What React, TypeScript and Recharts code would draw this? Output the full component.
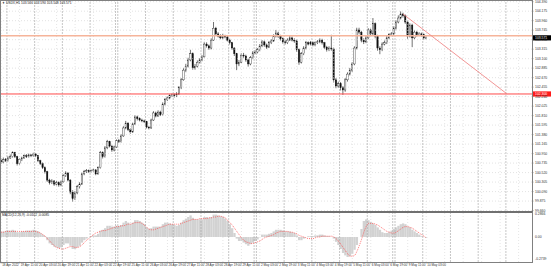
import { Bar, ComposedChart, Line, ReferenceLine, XAxis, YAxis } from "recharts";

// H2 candles (open = previous close)
const CLOSE = [
  100.76, 100.81, 100.79, 100.85, 100.88, 100.97, 100.88, 100.72, 100.81, 100.85,
  100.9, 100.88, 100.92, 100.9, 100.94, 100.9, 100.79, 100.72, 100.63, 100.54,
  100.35, 100.29, 100.33, 100.26, 100.29, 100.24, 100.31, 100.45, 100.51, 100.35,
  100.08, 99.93, 100.06, 100.2, 100.26, 100.49, 100.54, 100.56, 100.54, 100.56,
  100.58, 100.49, 100.63, 100.97, 100.88, 101.08, 101.22, 101.12, 101.03, 101.1,
  101.24, 101.22, 101.35, 101.53, 101.64, 101.49, 101.44, 101.62, 101.78, 101.74,
  101.71, 101.69, 101.67, 101.55, 101.53, 101.71, 101.87, 101.8, 101.89, 101.83,
  102.07, 102.17, 102.21, 102.26, 102.28, 102.26, 102.3, 102.44, 102.62, 102.84,
  102.93, 103.07, 103.21, 102.89, 102.93, 103.02, 103.07, 103.14, 103.43, 103.39,
  103.34, 103.52, 103.79, 103.66, 103.61, 103.57, 103.61, 103.59, 103.52, 103.46,
  103.34, 103.21, 102.98, 103.02, 103.18, 103.16, 103.07, 102.98, 103.12, 103.23,
  103.25, 103.3, 103.39, 103.48, 103.41, 103.36, 103.46, 103.5, 103.61, 103.68,
  103.61, 103.55, 103.48, 103.46, 103.52, 103.57, 103.52, 103.5, 103.3, 103.02,
  103.21, 103.34, 103.46, 103.43, 103.46, 103.41, 103.46, 103.48, 103.52, 103.46,
  103.36, 103.3, 103.34, 103.32, 102.62, 102.48, 102.53, 102.44, 102.39, 102.62,
  102.75, 102.84, 102.98, 103.34, 103.75, 103.7, 103.52, 103.48, 103.57, 103.75,
  103.66, 103.89, 103.61, 103.34, 103.3, 103.43, 103.46, 103.57, 103.64, 103.66,
  103.79, 103.93, 104.02, 104.11, 104.07, 103.93, 103.61, 103.86, 103.57, 103.7,
  103.64, 103.66, 103.64, 103.57, 103.57,
];
const HIGH = [
  100.84, 100.86, 100.85, 100.89, 100.93, 101.0, 100.99, 100.9, 100.84, 100.88,
  100.93, 100.94, 100.95, 100.94, 100.97, 100.96, 100.92, 100.81, 100.75, 100.66,
  100.56, 100.38, 100.37, 100.35, 100.33, 100.32, 100.34, 100.48, 100.55, 100.53,
  100.37, 100.12, 100.1, 100.24, 100.3, 100.52, 100.58, 100.6, 100.59, 100.59,
  100.61, 100.6, 100.66, 101.01, 101.0, 101.12, 101.26, 101.24, 101.14, 101.13,
  101.27, 101.28, 101.39, 101.57, 101.69, 101.66, 101.52, 101.65, 101.82, 101.81,
  101.77, 101.74, 101.72, 101.69, 101.58, 101.74, 101.91, 101.9, 101.93, 101.92,
  102.11, 102.21, 102.25, 102.29, 102.31, 102.31, 102.34, 102.48, 102.66, 102.89,
  102.98, 103.12, 103.3, 103.24, 102.98, 103.06, 103.11, 103.18, 103.48, 103.47,
  103.42, 103.56, 103.93, 103.82, 103.7, 103.65, 103.66, 103.64, 103.62, 103.55,
  103.48, 103.36, 103.23, 103.07, 103.22, 103.23, 103.19, 103.1, 103.16, 103.27,
  103.29, 103.34, 103.43, 103.52, 103.51, 103.44, 103.5, 103.54, 103.65, 103.75,
  103.71, 103.64, 103.58, 103.52, 103.56, 103.61, 103.6, 103.56, 103.53, 103.33,
  103.25, 103.38, 103.5, 103.49, 103.5, 103.49, 103.49, 103.52, 103.56, 103.55,
  103.48, 103.39, 103.38, 103.64, 103.35, 102.66, 102.58, 102.57, 102.48, 102.66,
  102.79, 102.89, 103.02, 103.38, 103.8, 103.8, 103.73, 103.56, 103.62, 103.79,
  103.78, 104.02, 103.92, 103.64, 103.38, 103.47, 103.51, 103.61, 103.68, 103.7,
  103.83, 103.97, 104.08, 104.17, 104.14, 104.1, 103.96, 103.9, 103.89, 103.74,
  103.73, 103.7, 103.69, 103.67, 103.61,
];
const LOW = [
  100.72, 100.73, 100.76, 100.77, 100.83, 100.86, 100.85, 100.68, 100.7, 100.78,
  100.83, 100.85, 100.86, 100.87, 100.88, 100.87, 100.76, 100.69, 100.6, 100.5,
  100.31, 100.25, 100.26, 100.22, 100.23, 100.2, 100.21, 100.29, 100.42, 100.32,
  100.03, 99.86, 99.9, 100.03, 100.16, 100.24, 100.46, 100.51, 100.51, 100.52,
  100.53, 100.46, 100.47, 100.61, 100.84, 100.86, 101.05, 101.09, 100.99, 101.0,
  101.08, 101.19, 101.2, 101.33, 101.5, 101.46, 101.4, 101.42, 101.6, 101.7,
  101.68, 101.66, 101.64, 101.52, 101.5, 101.51, 101.69, 101.77, 101.78, 101.8,
  101.81, 102.04, 102.14, 102.18, 102.23, 102.22, 102.23, 102.28, 102.41, 102.6,
  102.8, 102.9, 103.04, 102.85, 102.85, 102.9, 102.99, 103.04, 103.12, 103.35,
  103.3, 103.31, 103.5, 103.62, 103.58, 103.54, 103.54, 103.56, 103.49, 103.42,
  103.3, 103.16, 102.84, 102.93, 103.0, 103.12, 103.03, 102.92, 102.95, 103.09,
  103.2, 103.22, 103.27, 103.36, 103.37, 103.32, 103.34, 103.43, 103.48, 103.58,
  103.57, 103.51, 103.44, 103.42, 103.43, 103.5, 103.49, 103.46, 103.25, 102.96,
  102.99, 103.18, 103.31, 103.4, 103.4, 103.38, 103.38, 103.43, 103.45, 103.42,
  103.32, 103.26, 103.27, 103.28, 102.56, 102.43, 102.44, 102.38, 102.28, 102.35,
  102.58, 102.72, 102.8, 102.95, 103.31, 103.65, 103.47, 103.43, 103.45, 103.54,
  103.62, 103.63, 103.56, 103.28, 103.2, 103.27, 103.4, 103.43, 103.54, 103.61,
  103.63, 103.76, 103.9, 103.99, 104.03, 103.89, 103.55, 103.58, 103.36, 103.54,
  103.6, 103.61, 103.6, 103.53, 103.54,
];
const OPEN = [100.8, ...CLOSE.slice(0, -1)];

// MACD(12,26,9) histogram and signal
const HIST = [
  0.06, 0.07, 0.07, 0.08, 0.08, 0.09, 0.08, 0.06, 0.06, 0.07,
  0.07, 0.08, 0.08, 0.08, 0.09, 0.08, 0.07, 0.05, 0.03, 0.01,
  -0.04, -0.08, -0.1, -0.12, -0.13, -0.14, -0.13, -0.1, -0.08, -0.08,
  -0.11, -0.15, -0.15, -0.13, -0.11, -0.07, -0.04, -0.02, 0.0, 0.01,
  0.02, 0.02, 0.04, 0.08, 0.09, 0.11, 0.14, 0.14, 0.13, 0.13,
  0.14, 0.14, 0.15, 0.18, 0.2, 0.18, 0.16, 0.18, 0.21, 0.21,
  0.2, 0.18, 0.16, 0.12, 0.1, 0.11, 0.13, 0.13, 0.13, 0.13,
  0.16, 0.18, 0.18, 0.17, 0.16, 0.15, 0.14, 0.15, 0.18, 0.21,
  0.23, 0.25, 0.27, 0.24, 0.22, 0.22, 0.22, 0.22, 0.25, 0.25,
  0.24, 0.25, 0.28, 0.28, 0.27, 0.26, 0.25, 0.23, 0.2, 0.16,
  0.11, 0.05, -0.02, -0.05, -0.05, -0.07, -0.09, -0.11, -0.09, -0.07,
  -0.05, -0.03, 0.0, 0.03, 0.03, 0.03, 0.04, 0.05, 0.07, 0.09,
  0.09, 0.09, 0.08, 0.07, 0.07, 0.07, 0.06, 0.05, 0.02, -0.04,
  -0.04, -0.02, 0.0, 0.01, 0.01, 0.01, 0.02, 0.02, 0.03, 0.03,
  0.02, 0.01, 0.01, 0.0, -0.02, -0.06, -0.1, -0.15, -0.2, -0.23,
  -0.25, -0.24, -0.21, -0.16, -0.1, 0.0, 0.1, 0.2, 0.22, 0.21,
  0.19, 0.17, 0.15, 0.12, 0.09, 0.06, 0.05, 0.05, 0.06, 0.08,
  0.1, 0.12, 0.14, 0.16, 0.17, 0.16, 0.13, 0.12, 0.09, 0.07,
  0.05, 0.03, 0.01, 0.0, -0.01,
];
const SIGNAL = [
  0.06, 0.06, 0.07, 0.07, 0.07, 0.07, 0.07, 0.07, 0.07, 0.07,
  0.07, 0.07, 0.07, 0.07, 0.07, 0.07, 0.06, 0.05, 0.03, 0.01,
  -0.02, -0.05, -0.08, -0.11, -0.13, -0.14, -0.15, -0.15, -0.14, -0.13,
  -0.12, -0.12, -0.13, -0.13, -0.12, -0.1, -0.07, -0.04, -0.02, 0.01,
  0.03, 0.05, 0.06, 0.07, 0.08, 0.08, 0.09, 0.1, 0.11, 0.12,
  0.13, 0.13, 0.14, 0.14, 0.15, 0.16, 0.16, 0.17, 0.18, 0.18,
  0.18, 0.17, 0.15, 0.12, 0.1, 0.09, 0.09, 0.1, 0.11, 0.12,
  0.13, 0.14, 0.15, 0.16, 0.16, 0.16, 0.16, 0.16, 0.17, 0.18,
  0.19, 0.2, 0.21, 0.22, 0.22, 0.22, 0.23, 0.23, 0.23, 0.23,
  0.24, 0.24, 0.25, 0.25, 0.26, 0.26, 0.25, 0.24, 0.21, 0.18,
  0.15, 0.11, 0.07, 0.03, -0.01, -0.04, -0.06, -0.07, -0.08, -0.08,
  -0.07, -0.06, -0.05, -0.03, -0.01, 0.0, 0.01, 0.02, 0.03, 0.05,
  0.06, 0.07, 0.07, 0.07, 0.07, 0.06, 0.06, 0.05, 0.04, 0.02,
  0.01, 0.0, -0.01, -0.02, -0.02, -0.02, -0.01, 0.0, 0.0, 0.01,
  0.01, 0.01, 0.01, 0.01, 0.0, -0.02, -0.05, -0.09, -0.13, -0.17,
  -0.21, -0.24, -0.24, -0.23, -0.18, -0.11, -0.03, 0.06, 0.13, 0.17,
  0.17, 0.17, 0.16, 0.15, 0.13, 0.11, 0.09, 0.07, 0.06, 0.05,
  0.05, 0.06, 0.08, 0.1, 0.12, 0.13, 0.13, 0.12, 0.11, 0.09,
  0.07, 0.05, 0.03, 0.01, -0.01,
];

const PRICE_TICKS = [
  104.39, 104.175, 103.96, 103.745, 103.53, 103.315, 103.1, 102.885, 102.67,
  102.455, 102.24, 102.025, 101.81, 101.595, 101.38, 101.165, 100.95, 100.735,
  100.52, 100.305, 100.09, 99.875, 99.66,
];
const MACD_TICKS = [0.2866, 0, -0.2739];
const TIME_TICKS = [
  0, 8, 16, 24, 32, 40, 48, 56, 64, 72, 80, 88, 96, 104, 112, 120, 128, 136,
  144, 152, 160, 168, 176, 184,
];
const TIME_LABELS = [
  "18 Apr 2022", "19 Apr 11:00", "20 Apr 03:00", "20 Apr 19:00", "21 Apr 11:00",
  "22 Apr 03:00", "22 Apr 19:00", "25 Apr 11:00", "26 Apr 03:00", "26 Apr 19:00",
  "27 Apr 11:00", "28 Apr 03:00", "28 Apr 19:00", "29 Apr 11:00", "2 May 03:00",
  "2 May 19:00", "3 May 11:00", "4 May 03:00", "4 May 19:00", "5 May 11:00",
  "6 May 03:00", "6 May 19:00", "9 May 11:00", "10 May 03:00",
];
const GRID_X = [...TIME_TICKS, 192, 200, 208, 216, 224];
const DAY_BREAKS = [
  2.5, 14.5, 26.5, 38.5, 49.5, 50.5, 62.5, 74.5, 86.5, 98.5, 109.5, 110.5, 122.5,
  134.5, 146.5, 158.5, 169.5, 170.5, 182.5, 194.5, 206.5, 218.5,
];
const SUPPORT = 102.3;
const RESIST = 103.62;
const LAST = 103.571;
const TREND = [
  { x: 174, y: 104.11 },
  { x: 219, y: 102.3 },
];

const X_DOMAIN = [-0.5, 229.8];
const AXIS_X = 532;
const FONT = "'Liberation Sans', Arial, sans-serif";

const rows = CLOSE.map((c, i) => ({
  i,
  o: OPEN[i],
  h: HIGH[i],
  l: LOW[i],
  c,
  range: [LOW[i], HIGH[i]],
  hist: HIST[i],
  sig: SIGNAL[i],
}));

function Candle(props: any) {
  const { x, y, width, height, payload } = props;
  if (x == null || y == null) return null;
  const top = Math.min(y, y + height);
  const hh = Math.abs(height);
  const { o, c, h, l } = payload;
  const k = hh / (h - l || 1);
  const cx = x + width / 2;
  const bodyTop = top + (h - Math.max(o, c)) * k;
  const bodyH = Math.max(Math.abs(o - c) * k, 0.6);
  const up = c >= o;
  return (
    <g>
      <line x1={cx} x2={cx} y1={top} y2={top + hh} stroke="#111" strokeWidth={0.6} />
      <rect
        x={cx - 0.7}
        y={bodyTop}
        width={1.4}
        height={bodyH}
        fill={up ? "#fff" : "#111"}
        stroke="#111"
        strokeWidth={0.35}
      />
    </g>
  );
}

function PriceTick({ y, payload }: any) {
  return (
    <g>
      <line x1={AXIS_X} x2={AXIS_X + 1.5} y1={y} y2={y} stroke="#555" strokeWidth={0.5} />
      <text x={AXIS_X + 3} y={y + 1.2} fontSize={3.4} fill="#333" fontFamily={FONT}>
        {payload.value.toFixed(3)}
      </text>
    </g>
  );
}

function MacdTick({ y, payload }: any) {
  const v = payload.value;
  const s = v === 0 ? "0.00" : v.toFixed(4);
  return (
    <text x={AXIS_X + 3} y={y + 1.2} fontSize={3.4} fill="#333" fontFamily={FONT}>
      {s}
    </text>
  );
}

function TimeTick({ x, y, payload }: any) {
  const idx = TIME_TICKS.indexOf(payload.value);
  return (
    <g>
      <line x1={x} x2={x} y1={y} y2={y + 1.5} stroke="#555" strokeWidth={0.5} />
      <text x={x + 1} y={y + 4} fontSize={3.1} fill="#333" fontFamily={FONT}>
        {TIME_LABELS[idx]}
      </text>
    </g>
  );
}

function PriceTag({ viewBox, text, bg }: any) {
  if (!viewBox) return null;
  const x = viewBox.x + viewBox.width;
  const y = viewBox.y;
  return (
    <g>
      <rect x={x} y={y - 2.6} width={19} height={5.2} fill={bg} />
      <text x={x + 3} y={y + 1.2} fontSize={3.4} fill="#fff" fontFamily={FONT}>
        {text}
      </text>
    </g>
  );
}

export default function App() {
  return (
    <div
      style={{
        position: "absolute",
        left: 0,
        top: 0,
        width: 553,
        height: 267,
        background: "#fff",
        fontFamily: FONT,
        overflow: "hidden",
      }}
    >
      <div style={{ position: "absolute", left: 0, top: 0 }}>
        <ComposedChart width={553} height={214} data={rows} margin={{ top: 0, right: 0, bottom: 3, left: 0 }}>
          <XAxis dataKey="i" type="number" domain={X_DOMAIN} hide allowDataOverflow />
          <YAxis
            orientation="right"
            width={21}
            domain={[99.65, 104.428]}
            ticks={PRICE_TICKS}
            tick={<PriceTick />}
            interval={0}
            axisLine={false}
            tickLine={false}
            allowDataOverflow
          />
          {PRICE_TICKS.map((p) => (
            <ReferenceLine key={p} y={p} stroke="#d0d0d0" strokeDasharray="1 2" strokeWidth={0.6} />
          ))}
          {GRID_X.map((g) => (
            <ReferenceLine key={"g" + g} x={g} stroke="#d4d4d4" strokeDasharray="1 2" strokeWidth={0.6} />
          ))}
          {DAY_BREAKS.map((d) => (
            <ReferenceLine key={"d" + d} x={d} stroke="#a0a0a0" strokeDasharray="2 1" strokeWidth={0.6} />
          ))}
          <ReferenceLine y={RESIST} stroke="#f6b49a" strokeWidth={1.6} />
          <ReferenceLine
            y={SUPPORT}
            stroke="#ff4a4a"
            strokeWidth={1}
            label={<PriceTag text={SUPPORT.toFixed(3)} bg="#ff1a1a" />}
          />
          <ReferenceLine
            y={LAST}
            stroke="none"
            label={<PriceTag text={LAST.toFixed(3)} bg="#000" />}
          />
          <ReferenceLine segment={TREND} stroke="#f08a8a" strokeWidth={0.9} ifOverflow="visible" />
          <Bar dataKey="range" barSize={2} shape={<Candle />} isAnimationActive={false} />
        </ComposedChart>
      </div>

      <div style={{ position: "absolute", left: 0, top: 211 }}>
        <ComposedChart width={553} height={56} data={rows} margin={{ top: 1, right: 0, bottom: 0, left: 0 }}>
          <XAxis
            dataKey="i"
            type="number"
            domain={X_DOMAIN}
            ticks={TIME_TICKS}
            tick={<TimeTick />}
            interval={0}
            height={5}
            tickSize={0}
            tickMargin={0}
            axisLine={false}
            tickLine={false}
            allowDataOverflow
          />
          <YAxis
            orientation="right"
            width={21}
            domain={[-0.3125, 0.3125]}
            ticks={MACD_TICKS}
            tick={<MacdTick />}
            interval={0}
            axisLine={false}
            tickLine={false}
            allowDataOverflow
          />
          {GRID_X.map((g) => (
            <ReferenceLine key={"g" + g} x={g} stroke="#d4d4d4" strokeDasharray="1 2" strokeWidth={0.6} />
          ))}
          {DAY_BREAKS.map((d) => (
            <ReferenceLine key={"d" + d} x={d} stroke="#a0a0a0" strokeDasharray="2 1" strokeWidth={0.6} />
          ))}
          <Bar dataKey="hist" fill="#d2d2d2" barSize={2.3} isAnimationActive={false} />
          <Line
            dataKey="sig"
            type="monotone"
            stroke="#ff4040"
            strokeWidth={0.7}
            strokeDasharray="1 1"
            dot={false}
            isAnimationActive={false}
          />
        </ComposedChart>
      </div>

      {/* window frames */}
      <div
        style={{
          position: "absolute",
          left: 0,
          top: 0,
          width: 533,
          height: 212,
          border: "1px solid #808080",
          boxSizing: "border-box",
          pointerEvents: "none",
        }}
      />
      <div
        style={{
          position: "absolute",
          left: 0,
          top: 211,
          width: 533,
          height: 52,
          border: "1px solid #808080",
          borderTop: "2px solid #707070",
          boxSizing: "border-box",
          pointerEvents: "none",
        }}
      />

      <div style={{ position: "absolute", left: 2, top: 1, fontSize: 3.3, color: "#222", whiteSpace: "nowrap" }}>
        <span style={{ fontSize: 3 }}>▼</span> USDX,H1 103.566 103.590 103.548 103.571
      </div>
      <div style={{ position: "absolute", left: 2, top: 213, fontSize: 3.3, color: "#222", whiteSpace: "nowrap" }}>
        MACD(12,26,9) -0.0102 -0.0085
      </div>
    </div>
  );
}
